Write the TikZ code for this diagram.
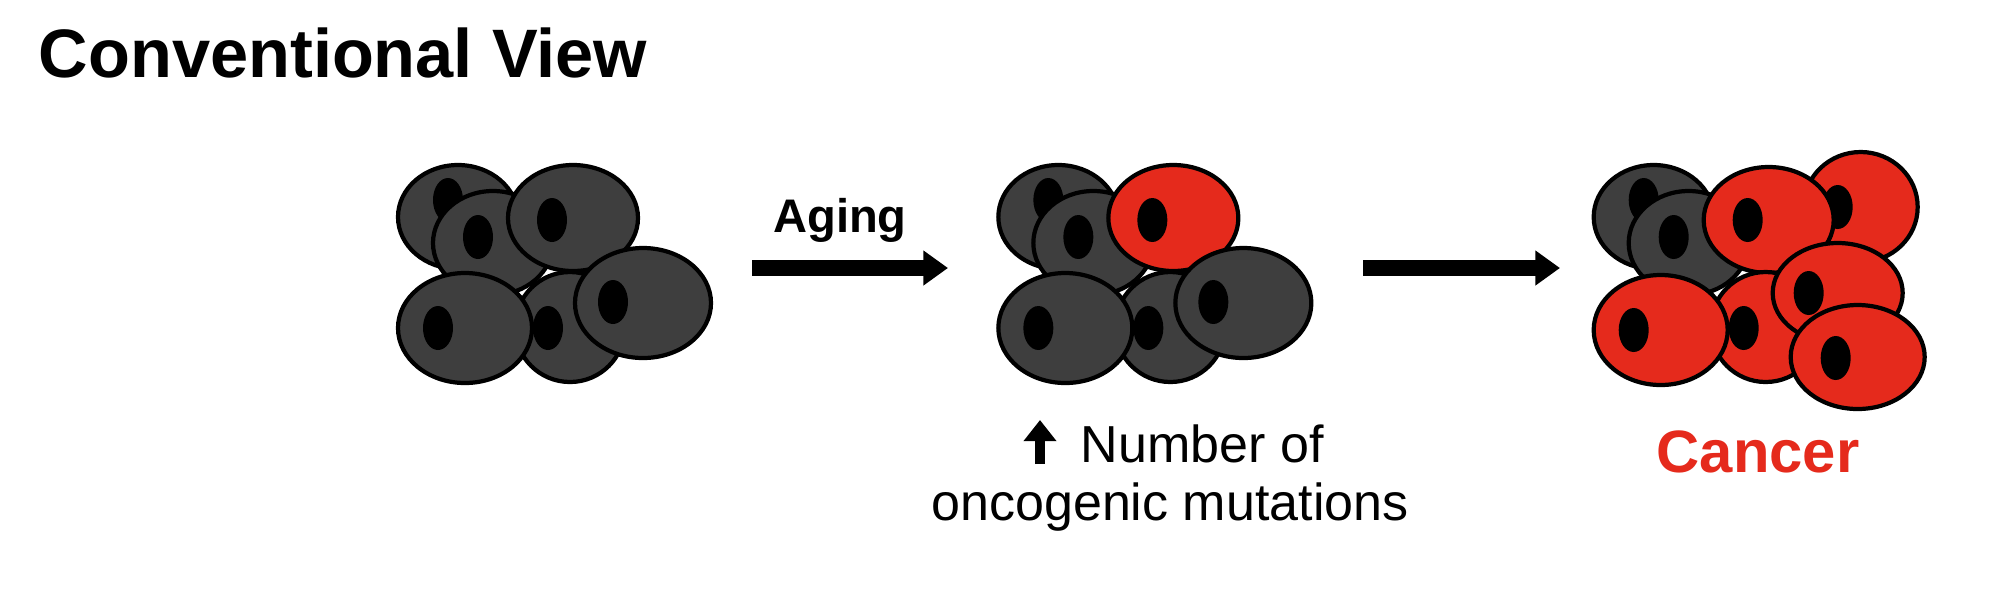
\documentclass[tikz,border=0pt]{standalone}
\usepackage{fontspec}
\setmainfont{Liberation Sans}
\definecolor{cellgray}{HTML}{3E3E3E}
\definecolor{cellred}{HTML}{E52A1C}
\usetikzlibrary{arrows.meta}
\tikzset{cellbody/.style={draw=black,line width=1.2pt},
 nucleus/.style={fill=black},
 bigarrow/.style={line width=4.3pt,-{Triangle[length=7pt,width=9.5pt]}},
 lbl/.style={font=\fontsize{14.8}{17}\selectfont, anchor=base}}
\newcommand\mycell[7]{%
 \fill[#7,cellbody] (#1,#2) ellipse [x radius=#3, y radius=#4];
 \fill[nucleus] (#5,#6) ellipse [x radius=15, y radius=22];}
\begin{document}
\begin{tikzpicture}[x=0.01cm,y=-0.01cm]
\useasboundingbox (0,0) rectangle (1990,602);
\node[anchor=base west,inner sep=0pt,font=\bfseries\fontsize{19.5}{22}\selectfont] (title) at (38,77) {Conventional View};
% cluster 1
\begin{scope}
\mycell{458}{217}{60}{52}{448}{200}{cellgray}
\mycell{493}{243}{60}{52}{478}{237}{cellgray}
\mycell{573}{218}{65}{53}{552}{220}{cellgray}
\mycell{570}{327}{55}{55}{548}{328}{cellgray}
\mycell{643}{303}{68}{55}{613}{302}{cellgray}
\mycell{465}{328}{67}{55}{438}{328}{cellgray}
\end{scope}
% cluster 2
\begin{scope}[xshift=6cm]
\mycell{458}{217}{60}{52}{448}{200}{cellgray}
\mycell{493}{243}{60}{52}{478}{237}{cellgray}
\mycell{573}{218}{65}{53}{552}{220}{cellred}
\mycell{570}{327}{55}{55}{548}{328}{cellgray}
\mycell{643}{303}{68}{55}{613}{302}{cellgray}
\mycell{465}{328}{67}{55}{438}{328}{cellgray}
\end{scope}
% cluster 3
\begin{scope}[xshift=11.95cm]
\mycell{458}{217}{60}{52}{448}{200}{cellgray}
\mycell{665}{207}{57}{55}{642}{207}{cellred}
\mycell{493}{243}{60}{52}{478}{237}{cellgray}
\mycell{573}{220}{65}{53}{552}{220}{cellred}
\mycell{570}{327}{55}{55}{548}{328}{cellred}
\mycell{642}{293}{65}{50}{613}{293}{cellred}
\mycell{465}{330}{67}{55}{438}{330}{cellred}
\mycell{662}{357}{67}{52}{640}{358}{cellred}
\end{scope}
\coordinate (a1s) at (752,268); \coordinate (a1e) at (948,268);
\coordinate (a2s) at (1363,268); \coordinate (a2e) at (1560,268);
\draw[bigarrow] (a1s) -- (a1e);
\draw[bigarrow] (a2s) -- (a2e);
\node[lbl,font=\bfseries\fontsize{13.4}{15}\selectfont] (aging) at (840,232) {Aging};
\node[lbl,anchor=base west,inner sep=0pt] (num) at (1080,462) {Number of};
\coordinate (upb) at (1040,464); \coordinate (upt) at (1040,420);
\draw[line width=2.6pt,-{Triangle[length=6pt,width=9pt]}] (upb) -- (upt);
\node[lbl] (onc) at (1170,520) {oncogenic mutations};
\node[anchor=base,text=cellred,font=\bfseries\fontsize{17}{20}\selectfont] (cancer) at (1758,472) {Cancer};
\end{tikzpicture}
\end{document}
